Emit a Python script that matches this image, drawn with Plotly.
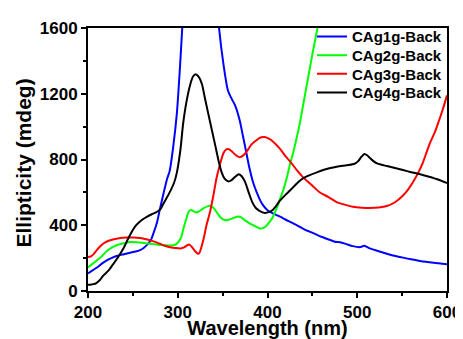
import plotly.graph_objects as go

# ---- data ----
names = ["CAg1g-Back", "CAg2g-Back", "CAg3g-Back", "CAg4g-Back"]
colors = ["#0000FF", "#00FF00", "#FF0000", "#000000"]

x1 = [200, 205, 210, 215, 221, 226, 232, 240, 247, 253, 258, 262, 266, 270, 273, 277, 280, 284, 288, 291,
      295, 299, 302, 305, 308, 312, 320, 332, 340, 343, 346, 351, 356, 360, 364, 369, 372, 375, 380, 384,
      388, 392, 395, 400, 406, 414, 420, 432, 441, 451, 460, 469, 475, 481, 488, 495, 503, 508, 514, 522,
      533, 541, 551, 560, 570, 585, 600]
y1 = [107, 125, 143, 165, 187, 200, 213, 224, 233, 240, 249, 262, 282, 310, 352, 420, 495, 590, 680, 730,
      880, 1080, 1320, 1600, 1950, 2400, 2900, 2900, 2000, 1800, 1600, 1377, 1218, 1170, 1128, 1039, 960, 880, 745, 660,
      600, 550, 522, 491, 472, 452, 435, 402, 375, 352, 330, 312, 300, 297, 285, 273, 267, 275, 259, 245,
      227, 215, 203, 193, 183, 172, 163]

x2 = [200, 205, 210, 216, 221, 226, 232, 240, 247, 255, 262, 270, 277, 285, 295, 299, 301, 304, 306, 309,
      312, 314, 317, 320, 323, 328, 333, 336, 340, 343, 348, 352, 356, 361, 366, 370, 375, 380, 386, 391,
      394, 398, 401, 405, 410, 414, 418, 422, 425, 429, 432, 436, 440, 445, 450, 455, 460, 465]
y2 = [143, 165, 187, 215, 243, 262, 278, 290, 298, 296, 292, 287, 282, 279, 278, 288, 300, 330, 372, 430,
      480, 492, 488, 478, 482, 501, 515, 518, 505, 482, 445, 432, 432, 442, 452, 450, 430, 412, 395, 382,
      381, 392, 412, 440, 501, 560, 621, 700, 770, 850, 920, 1020, 1140, 1290, 1440, 1580, 1730, 1880]

x3 = [200, 203, 206, 210, 214, 218, 223, 230, 236, 243, 251, 258, 262, 268, 273, 279, 284, 290, 297, 303,
      307, 311, 313, 316, 319, 322, 324, 326, 329, 332, 336, 340, 343, 347, 351, 354, 357, 361, 364, 369,
      373, 377, 382, 388, 393, 397, 402, 406, 414, 420, 425, 432, 440, 450, 458, 468, 477, 487, 495, 505,
      514, 524, 533, 542, 551, 557, 562, 568, 573, 577, 581, 586, 590, 595, 600]
y3 = [207, 210, 223, 250, 274, 292, 306, 316, 322, 325, 326, 322, 318, 310, 302, 290, 278, 268, 262, 259,
      265, 280, 282, 266, 245, 228, 230, 260, 322, 400, 482, 590, 681, 770, 840, 862, 862, 845, 830, 814,
      825, 850, 890, 919, 935, 937, 925, 910, 865, 820, 790, 740, 690, 641, 601, 571, 541, 524, 513, 507,
      505, 508, 517, 540, 581, 620, 661, 720, 780, 840, 900, 960, 1020, 1100, 1190]

x4 = [200, 204, 208, 213, 217, 223, 228, 234, 240, 244, 247, 251, 254, 260, 266, 271, 277, 281, 284, 288,
      292, 296, 299, 303, 306, 310, 314, 317, 320, 323, 327, 330, 334, 338, 342, 346, 349, 352, 356, 360,
      364, 368, 371, 375, 379, 383, 387, 391, 397, 401, 405, 410, 414, 420, 425, 431, 436, 441, 447, 455,
      462, 470, 477, 484, 490, 497, 501, 504, 508, 511, 514, 518, 522, 527, 533, 542, 551, 560, 570, 580,
      590, 600]
y4 = [38, 40, 44, 65, 94, 125, 163, 210, 265, 310, 342, 380, 402, 432, 452, 467, 482, 500, 531, 570,
      611, 660, 720, 860, 1019, 1160, 1258, 1305, 1318, 1305, 1258, 1180, 1079, 980, 880, 780, 720, 685, 667, 675,
      695, 711, 700, 664, 600, 541, 505, 488, 475, 480, 490, 520, 551, 585, 611, 645, 671, 690, 705, 722,
      736, 748, 756, 762, 766, 774, 790, 812, 834, 826, 810, 790, 776, 768, 760, 748, 736, 723, 710, 695,
      678, 657]

xs = [x1, x2, x3, x4]
ys = [y1, y2, y3, y4]

x_ticks = [200, 300, 400, 500, 600]
y_ticks = [0, 400, 800, 1200, 1600]
x_title = "Wavelength (nm)"
y_title = "Ellipticity (mdeg)"

FONT = "Liberation Sans, Arial, sans-serif"
# the page body has an 8px margin, so the figure is sized/offset to compensate
W, H = 455, 331
ML, MR, MT, MB = 80, 16, 15, 48
plot_h = H - MT - MB

legend_ids = ["legend", "legend2", "legend3", "legend4"]
row_px = [24, 43, 62, 81]  # legend row centres (px from figure top)

fig = go.Figure()
for n, c, xx, yy, lid in zip(names, colors, xs, ys, legend_ids):
    fig.add_trace(go.Scatter(x=xx, y=yy, mode="lines", name=n, legend=lid,
                             line=dict(color=c, width=2, shape="spline", smoothing=0.7)))

axis_common = dict(
    showline=True, linecolor="black", linewidth=2, mirror=True,
    ticks="outside", ticklen=5, tickwidth=2, tickcolor="black",
    showgrid=False, zeroline=False, automargin=False,
    tickfont=dict(family=FONT, size=17, color="black", weight="bold"),
)

fig.update_xaxes(range=[200, 600], tickvals=x_ticks,
                 minor=dict(dtick=50, tick0=200, ticks="outside", ticklen=3, tickwidth=2, tickcolor="black"),
                 title=dict(text=x_title, font=dict(family=FONT, size=20, color="black", weight="bold"),
                            standoff=3),
                 **axis_common)
fig.update_yaxes(range=[0, 1600], tickvals=y_ticks,
                 minor=dict(dtick=200, tick0=0, ticks="outside", ticklen=3, tickwidth=2, tickcolor="black"),
                 **axis_common)

# y-axis title as rotated text, placed further left than plotly's axis title allows
fig.add_annotation(text=y_title, textangle=-90, xref="paper", yref="paper", x=0, y=0.5,
                   xanchor="center", yanchor="middle", xshift=-65, yshift=-4, showarrow=False,
                   font=dict(family=FONT, size=21, color="black", weight="bold"))

leg_font = dict(family=FONT, size=15, color="black", weight="bold")
layout_legends = {}
for lid, r in zip(legend_ids, row_px):
    layout_legends[lid] = dict(x=1, y=1 - (r - MT) / plot_h, xanchor="right", yanchor="middle",
                               bgcolor="rgba(0,0,0,0)", borderwidth=0, font=leg_font)

fig.update_layout(
    width=W, height=H,
    margin=dict(l=ML, r=MR, t=MT, b=MB),
    paper_bgcolor="white", plot_bgcolor="white",
    showlegend=True,
    **layout_legends,
)

fig.write_html("out.html")
